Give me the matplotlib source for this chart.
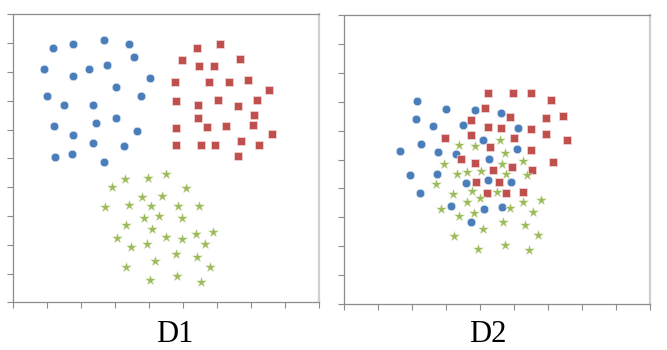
import matplotlib.pyplot as plt

# D1: three well separated clusters
d1_circle_x = [1.19, 1.76, 2.67, 3.42, 3.55, 0.90, 2.24, 2.77, 1.76, 4.02, 3.04, 1.01, 1.51,
               2.35, 3.76, 3.03, 1.21, 2.43, 1.76, 3.65, 2.34, 3.26, 1.24, 1.73, 2.69]
d1_circle_y = [8.84, 8.98, 9.10, 8.98, 8.52, 8.10, 8.10, 8.24, 7.86, 7.78, 7.49, 7.15, 6.86,
               6.86, 7.15, 6.39, 6.12, 6.22, 5.81, 5.95, 5.52, 5.42, 5.03, 5.15, 4.86]

d1_square_x = [5.41, 6.08, 4.97, 5.47, 5.92, 6.68, 4.77, 5.76, 6.35, 6.90, 7.53, 4.79, 5.43, 6.04, 6.63,
               7.18, 7.09, 5.45, 4.79, 5.71, 6.26, 7.06, 7.61, 6.71, 4.79, 5.54, 5.93, 7.24, 6.61]
d1_square_y = [8.84, 8.98, 8.40, 8.22, 8.20, 8.46, 7.66, 7.65, 7.65, 7.71, 7.37, 6.98, 6.86, 7.02, 6.81,
               7.02, 6.51, 6.40, 6.06, 6.09, 6.12, 6.15, 5.83, 5.61, 5.46, 5.46, 5.46, 5.46, 5.07]

d1_star_x = [3.29, 3.96, 4.49, 2.91, 5.08, 3.79, 4.39, 2.71, 3.41, 4.06, 4.84, 5.48, 3.84, 4.30, 4.98, 3.31, 4.08,
             3.06, 4.49, 4.96, 5.37, 5.89, 3.48, 3.94, 5.66, 4.79, 5.42, 4.19, 3.32, 5.79, 4.04, 4.81, 5.54]
d1_star_y = [4.28, 4.31, 4.45, 3.99, 3.96, 3.65, 3.70, 3.30, 3.39, 3.33, 3.34, 3.34, 2.94, 3.01, 2.94, 2.67, 2.55,
             2.23, 2.27, 2.19, 2.37, 2.45, 1.91, 2.02, 2.03, 1.69, 1.58, 1.44, 1.22, 1.24, 0.78, 0.91, 0.72]

# D2: the same three groups, overlapping
d2_circle_x = [2.16, 3.01, 3.86, 4.62, 2.12, 2.62, 3.51, 5.12, 4.10, 5.08, 1.66, 2.26, 2.76,
               3.30, 4.28, 1.94, 2.75, 3.59, 4.24, 4.93, 2.24, 3.14, 4.11, 4.65, 3.75]
d2_circle_y = [7.01, 6.76, 6.72, 6.61, 6.39, 6.16, 6.20, 6.09, 5.67, 5.35, 5.29, 5.55, 5.25,
               5.19, 5.01, 4.45, 4.49, 4.20, 4.30, 4.23, 3.84, 3.40, 3.30, 3.35, 2.85]

d2_square_x = [4.25, 4.97, 5.50, 6.09, 4.16, 4.88, 5.95, 6.45, 3.75, 4.25, 4.62, 5.50, 5.94, 6.57, 2.99,
               3.75, 5.00, 4.29, 5.50, 3.44, 3.86, 4.94, 4.40, 5.54, 6.15, 3.89, 4.55, 4.22, 4.76, 5.27]
d2_square_y = [7.29, 7.29, 7.30, 7.05, 6.79, 6.48, 6.43, 6.51, 6.36, 6.13, 6.09, 6.06, 5.87, 5.66, 5.73,
               5.86, 5.73, 5.44, 5.33, 5.02, 4.89, 4.75, 4.63, 4.64, 4.91, 4.21, 4.21, 3.84, 3.85, 3.87]

d2_star_x = [3.38, 3.86, 4.59, 4.73, 2.96, 4.66, 5.26, 3.32, 3.63, 4.03, 4.76, 5.39, 2.71, 3.22, 3.78, 4.00, 4.50,
             3.61, 5.28, 5.79, 2.85, 3.84, 4.88, 5.55, 3.39, 4.69, 5.34, 4.10, 3.24, 5.72, 3.95, 4.73, 5.45]
d2_star_y = [5.51, 5.47, 5.66, 5.21, 4.85, 4.85, 4.94, 4.50, 4.57, 4.61, 4.49, 4.47, 4.14, 3.82, 3.92, 3.67, 3.87,
             3.52, 3.52, 3.59, 3.29, 3.16, 3.33, 3.17, 3.06, 2.84, 2.72, 2.58, 2.34, 2.38, 1.91, 2.03, 1.86]

titles = ['D1', 'D2']

blue = '#4a7ebb'
red = '#c0504d'
green = '#9bbb59'

fig = plt.figure(figsize=(6.67, 3.5), dpi=100)
ax1 = fig.add_axes([13 / 667, 1 - 302.3 / 350, 306 / 667, 288 / 350])
ax2 = fig.add_axes([343.7 / 667, 1 - 304 / 350, 306.3 / 667, 289 / 350])

panels = [
    (ax1, d1_circle_x, d1_circle_y, d1_square_x, d1_square_y, d1_star_x, d1_star_y),
    (ax2, d2_circle_x, d2_circle_y, d2_square_x, d2_square_y, d2_star_x, d2_star_y),
]

for ax, cx, cy, sx, sy, tx, ty in panels:
    ax.scatter(cx, cy, s=38, marker='o', color=blue, edgecolors='#dfe8f3', linewidths=0.5, zorder=3)
    ax.scatter(sx, sy, s=26, marker='s', color=red, edgecolors='#f2dcdb', linewidths=0.5, zorder=3)
    ax.scatter(tx, ty, s=64, marker='*', color=green, edgecolors='#eaf1dd', linewidths=0.3, zorder=3)
    ax.set_xlim(0, 9)
    ax.set_ylim(0, 10)
    ax.set_xticks(range(10))
    ax.set_yticks(range(11))
    ax.tick_params(direction='out', length=4, width=0.8, color='#8c8c8c',
                   labelbottom=False, labelleft=False)
    for side in ['left', 'bottom', 'top']:
        ax.spines[side].set_color('#8c8c8c')
        ax.spines[side].set_linewidth(0.9)
    ax.spines['right'].set_color('#cfcfcf')
    ax.spines['right'].set_linewidth(1.6)

fig.text(175 / 667, 1 - 334 / 350, titles[0], ha='center', va='center',
         fontsize=22, family='Liberation Serif')
fig.text(488 / 667, 1 - 334 / 350, titles[1], ha='center', va='center',
         fontsize=22, family='Liberation Serif')

fig.savefig('out.png', dpi=100)
